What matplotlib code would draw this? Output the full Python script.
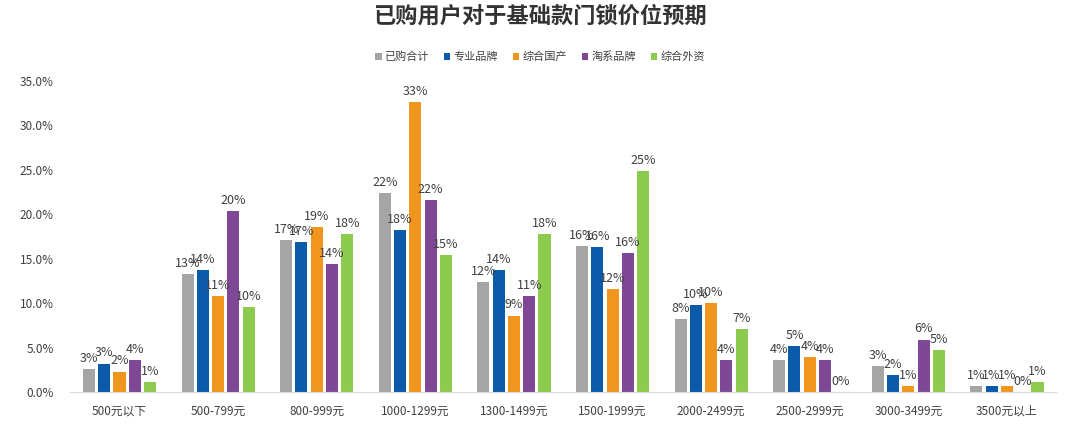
import numpy as np
import matplotlib
matplotlib.use("Agg")
import matplotlib.pyplot as plt
from matplotlib.ticker import PercentFormatter

plt.rcParams['font.family'] = ['Noto Sans CJK SC', 'DejaVu Sans']

# price bands (x categories)
categories = ['500元以下', '500-799元', '800-999元', '1000-1299元', '1300-1499元',
              '1500-1999元', '2000-2499元', '2500-2999元', '3000-3499元', '3500元以上']

# series values (share of respondents)
yigou_heji = [0.026, 0.133, 0.171, 0.224, 0.124, 0.164, 0.082, 0.036, 0.029, 0.0063]
zhuanye_pinpai = [0.032, 0.137, 0.169, 0.182, 0.137, 0.163, 0.098, 0.052, 0.019, 0.0063]
zonghe_guochan = [0.023, 0.108, 0.186, 0.326, 0.086, 0.116, 0.100, 0.039, 0.007, 0.007]
taoxi_pinpai = [0.036, 0.204, 0.144, 0.216, 0.108, 0.156, 0.036, 0.036, 0.059, 0.0]
zonghe_waizi = [0.011, 0.096, 0.178, 0.154, 0.178, 0.249, 0.071, 0.0, 0.047, 0.011]

series_names = ['已购合计', '专业品牌', '综合国产', '淘系品牌', '综合外资']
series_values = [yigou_heji, zhuanye_pinpai, zonghe_guochan, taoxi_pinpai, zonghe_waizi]
colors = ['#A5A5A5', '#0B5BAA', '#F0961E', '#7E4897', '#8DCB4E']

fig = plt.figure(figsize=(10.8, 4.38), dpi=100)
ax = fig.add_axes([0.065, 0.105, 0.913, 0.71])

x = np.arange(len(categories))
step = 0.155
width = 0.122
text_color = '#404040'

for i, (name, vals, c) in enumerate(zip(series_names, series_values, colors)):
    pos = x + (i - 2) * step
    bars = ax.bar(pos, vals, width, color=c, label=name)
    for b, v in zip(bars, vals):
        ax.annotate('{:.0%}'.format(v), (b.get_x() + b.get_width() / 2, v),
                    xytext=(0, 3), textcoords='offset points',
                    ha='center', va='bottom', fontsize=9, color=text_color)

ax.set_ylim(0, 0.35)
ax.set_yticks(np.arange(0, 0.351, 0.05))
ax.yaxis.set_major_formatter(PercentFormatter(1.0, decimals=1))
ax.set_xlim(-0.5, len(categories) - 0.5)
ax.set_xticks(x)
ax.set_xticklabels(categories)
ax.tick_params(axis='both', length=0, labelsize=8.5, colors=text_color)
ax.tick_params(axis='x', pad=9)
ax.tick_params(axis='y', pad=12)

for s in ['top', 'right', 'left']:
    ax.spines[s].set_visible(False)
ax.spines['bottom'].set_color('#D9D9D9')

fig.suptitle('已购用户对于基础款门锁价位预期', x=0.5, y=0.99, fontsize=16,
             fontweight='bold', color='#333333')
fig.legend(loc='center', bbox_to_anchor=(0.5, 0.87), ncol=5, frameon=False,
           fontsize=8, handlelength=0.6, handleheight=0.6, handletextpad=0.3,
           columnspacing=1.3, labelcolor=text_color)

plt.savefig('out.png', dpi=100)
